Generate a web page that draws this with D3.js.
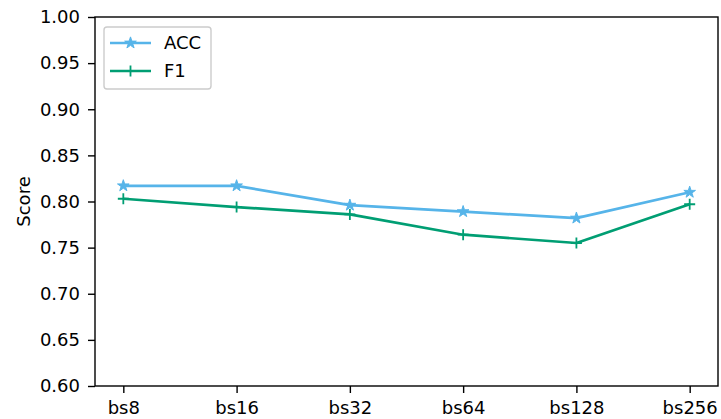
<!DOCTYPE html>
<html>
<head>
<meta charset="utf-8">
<script src="https://cdn.jsdelivr.net/npm/d3@7"></script>
<style>
  body { margin: 0; background: #fff; }
  svg text { font-family: "DejaVu Sans", sans-serif; fill: #000; }
</style>
</head>
<body>
<script>
//==============================================================================
// DATA
//==============================================================================

const categories = ['bs8', 'bs16', 'bs32', 'bs64', 'bs128', 'bs256'];
const accValues = [0.817, 0.817, 0.796, 0.789, 0.782, 0.810];
const f1Values = [0.803, 0.794, 0.786, 0.764, 0.755, 0.797];
const yTicks = [0.60, 0.65, 0.70, 0.75, 0.80, 0.85, 0.90, 0.95, 1.00];

const series = [
  { name: 'ACC', values: accValues, color: '#56B4E9', marker: 'star' },
  { name: 'F1', values: f1Values, color: '#009E73', marker: 'plus' }
];

//==============================================================================
// PARAMETERS
//==============================================================================

const margin = { top: 17, right: 3, bottom: 33, left: 95 };
const width = 721 - margin.left - margin.right;
const height = 419 - margin.top - margin.bottom;

const svg = d3.select('body').append('svg')
  .attr('width', 721)
  .attr('height', 419);

const g = svg.append('g')
  .attr('transform', `translate(${margin.left},${margin.top})`);

const x = d3.scalePoint().domain(categories).range([0, width]).padding(0.25);
const y = d3.scaleLinear().domain([0.6, 1.0]).range([height, 0]);

const line = d3.line()
  .x((d, i) => x(categories[i]))
  .y(d => y(d));

const star = d3.symbol().type(d3.symbolStar).size(42);

function plusPath(s) {
  return `M${-s},0H${s}M0,${-s}V${s}`;
}

//==============================================================================
// DRAW
//==============================================================================

// x axis
const xAxis = g.append('g')
  .attr('transform', `translate(0,${height})`)
  .call(d3.axisBottom(x).tickSize(7).tickPadding(8));

// y axis
const yAxis = g.append('g')
  .call(d3.axisLeft(y).tickValues(yTicks).tickFormat(d3.format('.2f')).tickSize(7).tickPadding(8));

[xAxis, yAxis].forEach(a => {
  a.select('.domain').remove();
  a.selectAll('line').attr('stroke', '#000').attr('stroke-width', 1.4);
  a.selectAll('text').style('font-size', '18px').attr('fill', '#000');
});

// y title
g.append('text')
  .attr('transform', `translate(${-65},${height / 2}) rotate(-90)`)
  .attr('text-anchor', 'middle')
  .style('font-size', '18px')
  .text('Score');

// lines and markers
series.forEach(s => {
  g.append('path')
    .datum(s.values)
    .attr('fill', 'none')
    .attr('stroke', s.color)
    .attr('stroke-width', 2.7)
    .attr('stroke-linejoin', 'round')
    .attr('d', line);

  const m = g.append('g').selectAll('path')
    .data(s.values)
    .enter()
    .append('path')
    .attr('transform', (d, i) => `translate(${x(categories[i])},${y(d)})`);

  if (s.marker === 'star') {
    m.attr('d', star()).attr('fill', s.color).attr('stroke', s.color).attr('stroke-width', 1);
  } else {
    m.attr('d', plusPath(5.5)).attr('fill', 'none').attr('stroke', s.color).attr('stroke-width', 1.8);
  }
});

// frame
g.append('rect')
  .attr('width', width)
  .attr('height', height)
  .attr('fill', 'none')
  .attr('stroke', '#000')
  .attr('stroke-width', 1.4);

// legend
const legend = g.append('g').attr('transform', 'translate(9,10)');

legend.append('rect')
  .attr('width', 107)
  .attr('height', 62)
  .attr('rx', 3)
  .attr('fill', '#fff')
  .attr('fill-opacity', 0.8)
  .attr('stroke', '#ccc')
  .attr('stroke-width', 1.4);

series.forEach((s, i) => {
  const row = legend.append('g').attr('transform', `translate(6,${16 + i * 28})`);
  row.append('line')
    .attr('x1', 0).attr('x2', 41)
    .attr('stroke', s.color)
    .attr('stroke-width', 2.7);
  if (s.marker === 'star') {
    row.append('path').attr('transform', 'translate(20.5,0)')
      .attr('d', star()).attr('fill', s.color).attr('stroke', s.color).attr('stroke-width', 1);
  } else {
    row.append('path').attr('transform', 'translate(20.5,0)')
      .attr('d', plusPath(5.5)).attr('fill', 'none').attr('stroke', s.color).attr('stroke-width', 1.8);
  }
  row.append('text')
    .attr('x', 54)
    .attr('dy', '0.35em')
    .style('font-size', '18px')
    .text(s.name);
});
</script>
</body>
</html>
